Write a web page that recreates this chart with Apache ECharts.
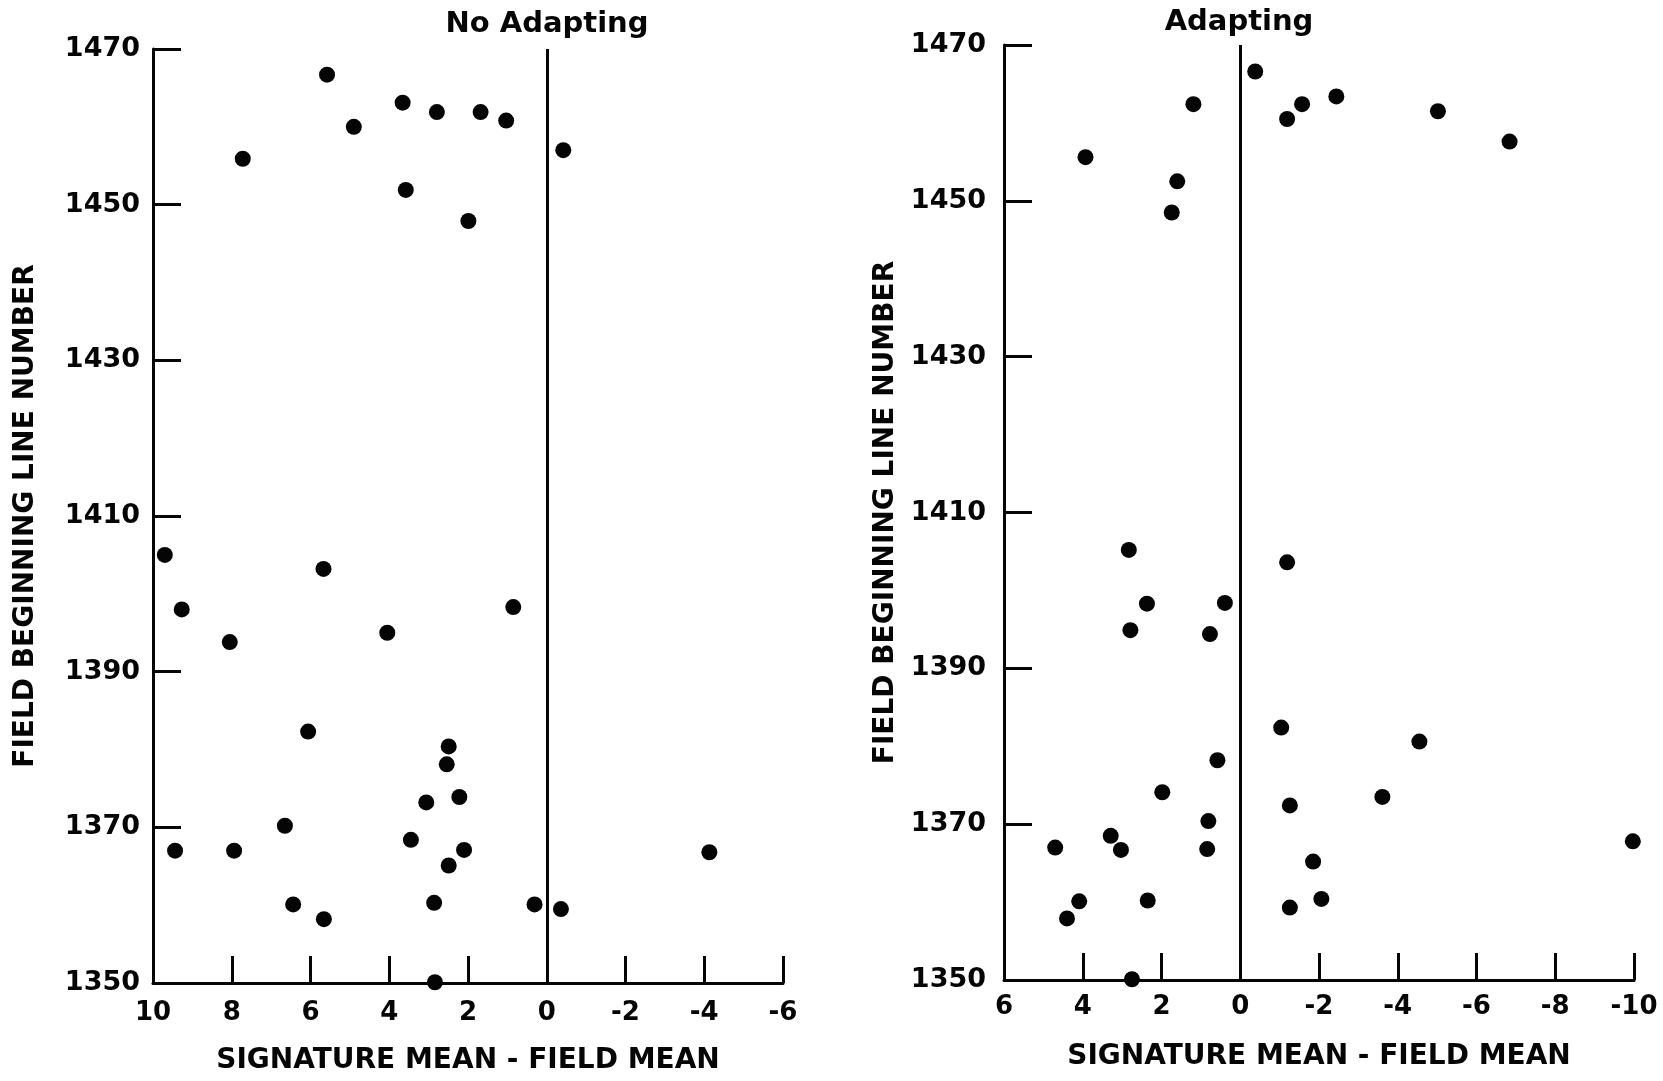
<!DOCTYPE html>
<html>
<head>
<meta charset="utf-8">
<title>Signature mean - field mean by field beginning line number</title>
<script src="https://cdn.jsdelivr.net/npm/echarts@6/dist/echarts.min.js"></script>
<style>
  html, body { margin: 0; padding: 0; background: #ffffff; }
  #chart { width: 1663px; height: 1081px; }
</style>
</head>
<body>
<div id="chart"></div>
<script>
// Panel titles
const panelTitles = ['No Adapting', 'Adapting'];

// Axis ranges and tick labels
const yTicks = [1350, 1370, 1390, 1410, 1430, 1450, 1470];
const xTicksNoAdapt = [10, 8, 6, 4, 2, 0, -2, -4, -6];
const xTicksAdapt = [6, 4, 2, 0, -2, -4, -6, -8, -10];

// No Adapting: signature mean - field mean (x) vs field beginning line number (y)
const noAdaptX = [5.58, 4.90, 3.66, 2.79, 1.68, 1.03, 7.72, -0.42, 3.58, 1.99,
  9.70, 9.27, 5.67, 0.85, 8.05, 4.05, 6.06, 2.49, 2.54, 2.22,
  3.06, 6.65, 9.44, 7.94, 3.45, 2.10, 2.49, -4.13, 6.44, 5.66,
  2.86, 0.31, -0.36, 2.84];
const noAdaptY = [1466.7, 1460.0, 1463.1, 1461.9, 1461.9, 1460.8, 1455.9, 1457.0, 1451.9, 1447.9,
  1405.0, 1398.0, 1403.2, 1398.3, 1393.8, 1395.0, 1382.3, 1380.4, 1378.1, 1373.9,
  1373.2, 1370.2, 1367.0, 1367.0, 1368.4, 1367.1, 1365.1, 1366.8, 1360.1, 1358.2,
  1360.3, 1360.1, 1359.5, 1350.1];

// Adapting
const adaptX = [-0.38, 1.19, 3.93, -1.19, -1.57, -2.44, -5.02, -6.84, 1.60, 1.74,
  2.83, -1.19, 2.37, 0.39, 2.79, 0.77, -1.04, -4.55, 0.58, 1.98,
  -3.61, -1.26, 0.81, 3.29, 4.70, 3.03, 0.84, -9.97, -1.85, 4.09,
  2.35, -2.06, 4.40, -1.26, 2.75];
const adaptY = [1466.6, 1462.4, 1455.6, 1460.5, 1462.4, 1463.4, 1461.5, 1457.6, 1452.5, 1448.5,
  1405.2, 1403.6, 1398.3, 1398.4, 1394.9, 1394.4, 1382.4, 1380.6, 1378.2, 1374.1,
  1373.5, 1372.4, 1370.4, 1368.5, 1367.0, 1366.7, 1366.8, 1367.8, 1365.2, 1360.1,
  1360.2, 1360.4, 1357.9, 1359.3, 1350.1];

const INK = '#050505';
const FONT = '"DejaVu Sans", "Liberation Sans", sans-serif';

function pairs(xs, ys) {
  return xs.map((x, i) => [x, ys[i]]);
}

// Plain numbers, no thousands separator
function plain(v) {
  return String(v);
}

function xAxisFor(gridIndex, ticks, labelMargin, nameGap) {
  return {
    type: 'value',
    gridIndex: gridIndex,
    inverse: true,
    min: Math.min.apply(null, ticks),
    max: Math.max.apply(null, ticks),
    interval: 2,
    name: 'SIGNATURE MEAN - FIELD MEAN',
    nameLocation: 'middle',
    nameGap: nameGap,
    nameTextStyle: { color: INK, fontFamily: FONT, fontWeight: 'bold', fontSize: 28 },
    splitLine: { show: false },
    axisLine: { show: true, onZero: false, lineStyle: { color: INK, width: 3 } },
    axisTick: { show: true, inside: true, length: 27, lineStyle: { color: INK, width: 3 } },
    axisLabel: { color: INK, fontFamily: FONT, fontWeight: 'bold', fontSize: 26, margin: labelMargin, formatter: plain }
  };
}

function yAxisFor(gridIndex, labelMargin, nameGap) {
  return {
    type: 'value',
    gridIndex: gridIndex,
    min: yTicks[0],
    max: yTicks[yTicks.length - 1],
    interval: 10,
    name: 'FIELD BEGINNING LINE NUMBER',
    nameLocation: 'middle',
    nameGap: nameGap,
    nameRotate: 90,
    nameTextStyle: { color: INK, fontFamily: FONT, fontWeight: 'bold', fontSize: 28 },
    splitLine: { show: false },
    axisLine: { show: true, onZero: false, lineStyle: { color: INK, width: 3 } },
    axisTick: { show: true, inside: true, length: 28, customValues: yTicks, lineStyle: { color: INK, width: 3 } },
    axisLabel: { color: INK, fontFamily: FONT, fontWeight: 'bold', fontSize: 27, margin: labelMargin, customValues: yTicks, formatter: plain }
  };
}

function scatterFor(index, data) {
  return {
    type: 'scatter',
    xAxisIndex: index,
    yAxisIndex: index,
    data: data,
    symbol: 'circle',
    symbolSize: 16,
    clip: false,
    itemStyle: { color: INK, opacity: 1 },
    silent: true,
    markLine: {
      silent: true,
      symbol: 'none',
      label: { show: false },
      lineStyle: { color: INK, width: 3, type: 'solid', opacity: 1 },
      data: [{ xAxis: 0 }]
    }
  };
}

const chart = echarts.init(document.getElementById('chart'), null, { renderer: 'canvas' });

chart.setOption({
  backgroundColor: '#ffffff',
  animation: false,
  grid: [
    { left: 153, top: 49, width: 630, height: 934 },
    { left: 1004, top: 45, width: 630, height: 935 }
  ],
  xAxis: [
    xAxisFor(0, xTicksNoAdapt, 17, 64),
    xAxisFor(1, xTicksAdapt, 14, 63)
  ],
  yAxis: [
    yAxisFor(0, 13, 113),
    yAxisFor(1, 18, 104)
  ],
  series: [
    scatterFor(0, pairs(noAdaptX, noAdaptY)),
    scatterFor(1, pairs(adaptX, adaptY))
  ],
  graphic: [
    {
      type: 'text', x: 547, y: 24,
      style: { text: panelTitles[0], fill: INK, font: 'bold 29px ' + FONT, align: 'center', verticalAlign: 'middle' }
    },
    {
      type: 'text', x: 1239, y: 22,
      style: { text: panelTitles[1], fill: INK, font: 'bold 29px ' + FONT, align: 'center', verticalAlign: 'middle' }
    }
  ]
});
</script>
</body>
</html>
